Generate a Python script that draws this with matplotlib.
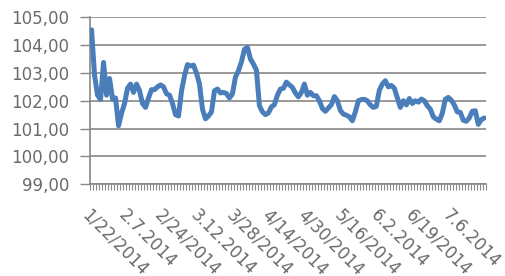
import matplotlib.pyplot as plt
import numpy as np

# values, one per category (trading day)
values = [
    104.55, 102.9, 102.2, 102.05, 103.38, 102.2, 102.8, 102.06, 102.1, 101.1,
    101.55, 101.9, 102.45, 102.6, 102.3, 102.6, 102.36, 101.9, 101.76, 102.1,
    102.4, 102.4, 102.5, 102.57, 102.5, 102.25, 102.2, 101.9, 101.5, 101.45,
    102.35, 102.9, 103.3, 103.25, 103.28, 103.0, 102.6, 101.7, 101.35, 101.45,
    101.6, 102.36, 102.42, 102.28, 102.3, 102.26, 102.1, 102.25, 102.85, 103.08,
    103.4, 103.85, 103.92, 103.5, 103.32, 103.1, 101.82, 101.6, 101.5, 101.56,
    101.78, 101.86, 102.2, 102.42, 102.45, 102.67, 102.57, 102.48, 102.28, 102.14,
    102.3, 102.6, 102.2, 102.3, 102.18, 102.18, 102.0, 101.72, 101.62, 101.74,
    101.86, 102.15, 102.0, 101.65, 101.52, 101.48, 101.42, 101.28, 101.6, 102.0,
    102.04, 102.05, 102.0, 101.85, 101.76, 101.8, 102.38, 102.6, 102.72, 102.5,
    102.55, 102.45, 102.1, 101.76, 102.0, 101.85, 102.08, 101.9, 102.0, 101.95,
    102.06, 102.0, 101.82, 101.7, 101.42, 101.34, 101.28, 101.55, 102.05, 102.12,
    102.02, 101.85, 101.6, 101.58, 101.3, 101.26, 101.38, 101.62, 101.64, 101.15,
    101.32, 101.38,
]

# category labels shown on the x axis (every 12th category)
date_labels = ['1/22/2014', '2.7.2014', '2/24/2014', '3.12.2014', '3/28/2014',
               '4/14/2014', '4/30/2014', '5/16/2014', '6.2.2014', '6/19/2014',
               '7.6.2014']
label_step = 12

y_ticks = [99, 100, 101, 102, 103, 104, 105]

grey = '#888888'
text_grey = '#6a6a6a'

fig = plt.figure(figsize=(5.06, 2.76), dpi=100)
ax = fig.add_axes([0.178, 0.333, 0.782, 0.604])

x = np.arange(len(values))
ax.plot(x, values, color='#4A7EBB', linewidth=3.6, solid_capstyle='round',
        solid_joinstyle='round', zorder=3)

ax.set_xlim(-0.5, len(values) - 0.5)
ax.set_ylim(99, 105)

# y axis
ax.set_yticks(y_ticks)
ax.set_yticklabels([f'{v:.2f}'.replace('.', ',') for v in y_ticks],
                   fontsize=12, color=text_grey, family='DejaVu Sans')
ax.tick_params(axis='y', length=7, width=1, color=grey, pad=8)
ax.grid(axis='y', color=grey, linewidth=1.2, zorder=1)

# x axis: small tick at every category boundary, labels every 12th
ax.set_xticks(np.arange(-0.5, len(values), 1), minor=True)
ax.set_xticks(np.arange(0, len(date_labels) * label_step, label_step))
ax.set_xticklabels(date_labels, fontsize=12, color=text_grey,
                   family='DejaVu Sans', rotation=-45, ha='left', va='top',
                   rotation_mode='anchor')
ax.tick_params(axis='x', which='minor', length=4, width=0.8, color=grey)
ax.tick_params(axis='x', which='major', length=0, pad=16)

for side in ['top', 'right']:
    ax.spines[side].set_visible(False)
ax.spines['left'].set_color(grey)
ax.spines['bottom'].set_color(grey)
ax.spines['left'].set_linewidth(1.2)
ax.spines['bottom'].set_linewidth(1.2)

fig.savefig('out.png', dpi=100)
